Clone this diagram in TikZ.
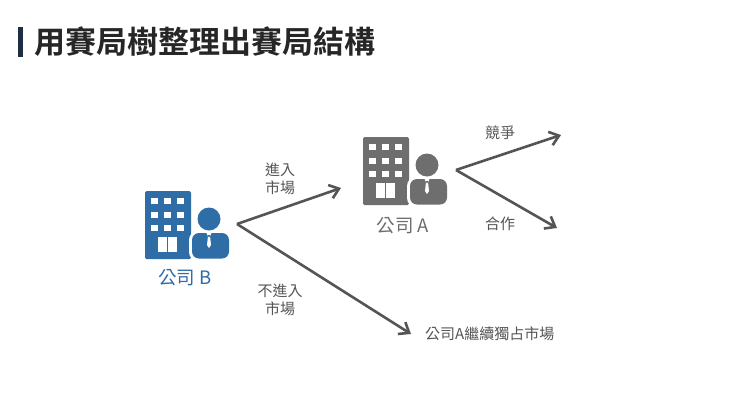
\documentclass[tikz,border=0pt]{standalone}
\usepackage{fontspec}
\setmainfont{Noto Sans CJK TC}
\newfontfamily\tbold{Noto Sans CJK TC Bold}
\usetikzlibrary{arrows.meta}
\definecolor{bblue}{HTML}{2E6DA6}
\definecolor{igray}{HTML}{6E6E6E}
\definecolor{agray}{HTML}{555555}
\definecolor{navy}{HTML}{1F2D45}
\tikzset{
  arr/.style={draw=agray,line width=2.6pt,-{Straight Barb[length=9pt,width=14pt,line width=2.6pt]}},
  lbl/.style={font=\fontsize{15}{18}\selectfont,text=agray,align=center,inner sep=1pt},
  pics/corp/.style={code={
    \fill[#1,rounded corners=1.5pt] (0,0) rectangle (46,68);
    \foreach \cx in {6,19,32}{\foreach \cy in {7,21,34}{\fill[white] (\cx,\cy) rectangle ++(7,6);}}
    \fill[white] (13,46) rectangle (22,61);
    \fill[white] (23,46) rectangle (32,61);
    \fill[white,rounded corners=9pt] (44,40) rectangle (87,70);
    \fill[white] (64,28) circle (14);
    \fill[#1,rounded corners=7pt] (47,42) rectangle (84,67.5);
    \fill[#1] (64,28) circle (11.5);
    \fill[white] (61.5,42) -- (66.5,42) -- (65,45) -- (66,54) -- (64,57) -- (62,54) -- (63,45) -- cycle;
    \fill[#1] (63,44) -- (65,44) -- (64.6,46) -- (63.4,46) -- cycle;
  }}
}
\begin{document}
\begin{tikzpicture}[x=1pt,y=-1pt]
\useasboundingbox[fill=white] (0,0) rectangle (740,416);
\fill[navy] (18,27) rectangle (23,57);
\node[anchor=west,inner sep=0,font=\tbold\fontsize{31}{34}\selectfont,text=black!85] (title) at (34,42) {用賽局樹整理出賽局結構};
\pic at (145,191) {corp=bblue};
\pic at (363,137) {corp=igray};
\node[font=\fontsize{18.5}{21}\selectfont,text=bblue] (B) at (185,278) {公司 B};
\node[font=\fontsize{18.5}{21}\selectfont,text=igray] (A) at (403,226) {公司 A};
\coordinate (b0) at (237,224);
\coordinate (a0) at (456,170);
\coordinate (t1) at (341,188);
\coordinate (t2) at (411,334);
\coordinate (t3) at (561,135);
\coordinate (t4) at (557,228);
\draw[arr] (b0) -- (t1);
\draw[arr] (b0) -- (t2);
\draw[arr] (a0) -- (t3);
\draw[arr] (a0) -- (t4);
\node[lbl] (l1) at (280,179) {進入\\市場};
\node[lbl] (l2) at (280,300) {不進入\\市場};
\node[lbl] (l3) at (500,133) {競爭};
\node[lbl] (l4) at (500,224) {合作};
\node[lbl,anchor=west] (l5) at (424,334) {公司A繼續獨占市場};
\end{tikzpicture}
\end{document}
